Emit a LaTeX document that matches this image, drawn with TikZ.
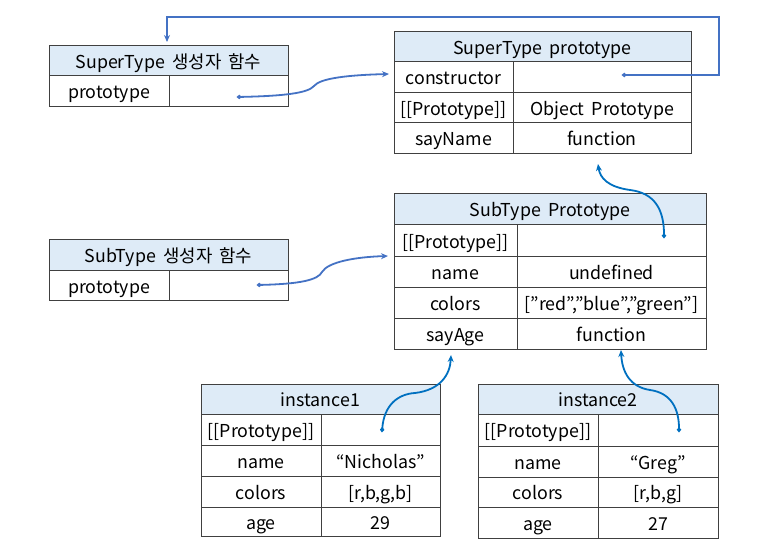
\documentclass[tikz,border=0pt]{standalone}
\usepackage{fontspec}
\setmainfont[WordSpace=1.8]{Noto Sans CJK KR}
\usetikzlibrary{arrows.meta}
\definecolor{hdr}{HTML}{DEEBF7}
\definecolor{lnA}{HTML}{4472C4}
\definecolor{lnB}{HTML}{0070C0}
\definecolor{brd}{HTML}{404040}
\newcommand\tcell[7]{\node[#1, minimum width={(#5-#3)*1pt}, minimum height={(#6-#4)*1pt}] (#2) at ({(#3+#5)/2},{(#4+#6)/2}) {#7};}
\tikzset{
  cell/.style={draw=brd, line width=1pt, inner sep=0pt, outer sep=0pt,
    font=\fontsize{17.8pt}{19pt}\selectfont, text height=17pt, text depth=2pt},
  head/.style={cell, fill=hdr},
  linkA/.style={draw=lnA, line width=1.8pt, {Circle[length=4.5pt,width=4pt]}-{Stealth[length=7pt,width=6pt]}},
  linkB/.style={draw=lnB, line width=1.8pt, {Circle[length=4.5pt,width=4pt]}-{Stealth[length=7pt,width=6pt]}},
}
\begin{document}
\begin{tikzpicture}[x=1pt,y=-1pt]
\useasboundingbox (0,0) rectangle (761,556);
% Box A
\tcell{head}{sAh}{49}{46}{288}{76}{SuperType 생성자 함수}
\tcell{cell}{sAk}{49}{76}{169}{107}{prototype}
\tcell{cell}{sAv}{169}{76}{288}{107}{}
% Box B
\tcell{head}{sBh}{394}{32}{691}{62}{SuperType prototype}
\tcell{cell}{sBk1}{394}{62}{513}{93}{constructor}
\tcell{cell}{sBv1}{513}{62}{691}{93}{}
\tcell{cell}{sBk2}{394}{93}{513}{123}{[[Prototype]]}
\tcell{cell}{sBv2}{513}{93}{691}{123}{Object Prototype}
\tcell{cell}{sBk3}{394}{123}{513}{154}{sayName}
\tcell{cell}{sBv3}{513}{123}{691}{154}{function}
% Box C
\tcell{head}{sCh}{394}{194}{706}{225}{SubType Prototype}
\tcell{cell}{sCk1}{394}{225}{517}{257}{[[Prototype]]}
\tcell{cell}{sCv1}{517}{225}{706}{257}{}
\tcell{cell}{sCk2}{394}{257}{517}{288}{name}
\tcell{cell}{sCv2}{517}{257}{706}{288}{undefined}
\tcell{cell}{sCk3}{394}{288}{517}{319}{colors}
\tcell{cell}{sCv3}{517}{288}{706}{319}{[”red”,”blue”,”green”]}
\tcell{cell}{sCk4}{394}{319}{517}{349}{sayAge}
\tcell{cell}{sCv4}{517}{319}{706}{349}{function}
% Box D
\tcell{head}{sDh}{49}{240}{288}{271}{SubType 생성자 함수}
\tcell{cell}{sDk}{49}{271}{169}{301}{prototype}
\tcell{cell}{sDv}{169}{271}{288}{301}{}
% Box E
\tcell{head}{sEh}{201}{384}{440}{414}{instance1}
\tcell{cell}{sEk1}{201}{414}{321}{445}{[[Prototype]]}
\tcell{cell}{sEv1}{321}{414}{440}{445}{}
\tcell{cell}{sEk2}{201}{445}{321}{476}{name}
\tcell{cell}{sEv2}{321}{445}{440}{476}{“Nicholas”}
\tcell{cell}{sEk3}{201}{476}{321}{507}{colors}
\tcell{cell}{sEv3}{321}{476}{440}{507}{[r,b,g,b]}
\tcell{cell}{sEk4}{201}{507}{321}{536}{age}
\tcell{cell}{sEv4}{321}{507}{440}{536}{29}
% Box F
\tcell{head}{sFh}{478}{384}{718}{414}{instance2}
\tcell{cell}{sFk1}{478}{414}{598}{446}{[[Prototype]]}
\tcell{cell}{sFv1}{598}{414}{718}{446}{}
\tcell{cell}{sFk2}{478}{446}{598}{477}{name}
\tcell{cell}{sFv2}{598}{446}{718}{477}{“Greg”}
\tcell{cell}{sFk3}{478}{477}{598}{507}{colors}
\tcell{cell}{sFv3}{598}{477}{718}{507}{[r,b,g]}
\tcell{cell}{sFk4}{478}{507}{598}{538}{age}
\tcell{cell}{sFv4}{598}{507}{718}{538}{27}
% connector ends
\coordinate (p1s) at (237,97);  \coordinate (p1e) at (389,74);
\coordinate (p2s) at (622,75);  \coordinate (p2e) at (167,42);
\coordinate (p3s) at (664,238); \coordinate (p3e) at (598,164);
\coordinate (p4s) at (257,285); \coordinate (p4e) at (388,256);
\coordinate (p5s) at (382,432); \coordinate (p5e) at (451,355);
\coordinate (p6s) at (679,432); \coordinate (p6e) at (621,350);
% connectors
\draw[linkA] (p1s) .. controls (285,96) and (308,93) .. (314,86) .. controls (320,78) and (350,75) .. (p1e);
\draw[linkA] (p2s) -- (719,75) -- (719,17) -- (167,17) -- (p2e);
\draw[linkB] (p3s) .. controls (664,210) and (655,193) .. (630,190) .. controls (608,187) and (600,178) .. (p3e);
\draw[linkA] (p4s) .. controls (300,284) and (318,280) .. (322,272) .. controls (328,262) and (355,257) .. (p4e);
\draw[linkB] (p5s) .. controls (384,405) and (398,394) .. (415,393) .. controls (440,390) and (450,375) .. (p5e);
\draw[linkB] (p6s) .. controls (679,410) and (672,393) .. (650,390) .. controls (630,387) and (622,372) .. (p6e);
\end{tikzpicture}
\end{document}
